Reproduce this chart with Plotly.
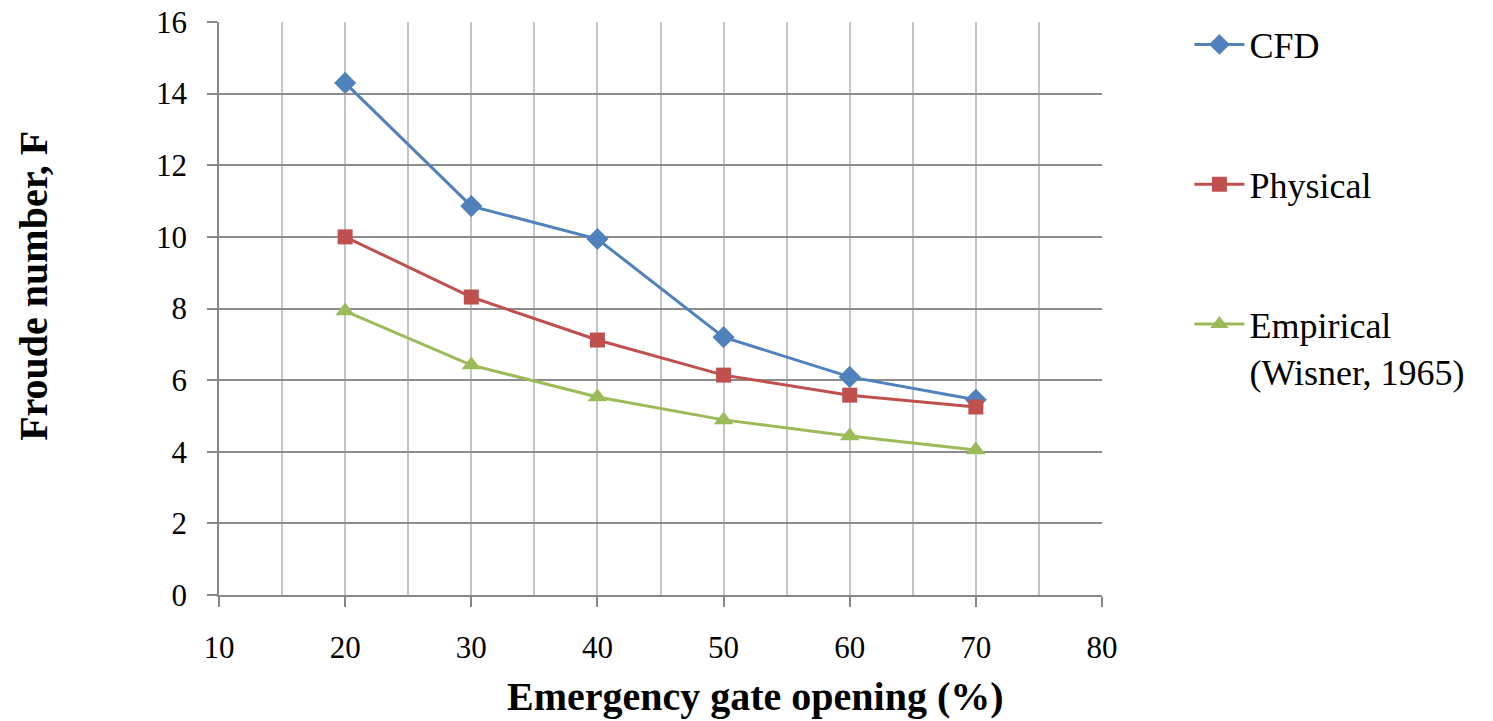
import plotly.graph_objects as go

gate_opening = [20, 30, 40, 50, 60, 70]
cfd = [14.30, 10.86, 9.94, 7.20, 6.09, 5.45]
physical = [10.00, 8.32, 7.12, 6.14, 5.58, 5.25]
empirical = [7.93, 6.42, 5.53, 4.89, 4.44, 4.05]

series_names = ["CFD", "Physical", "Empirical<br>(Wisner, 1965)"]
colors = ["#4F81BD", "#C0504D", "#9BBB59"]
symbols = ["diamond", "square", "triangle-up"]
marker_sizes = [17, 15, 17]
FONT = "Liberation Serif"

fig = go.Figure()
for i, (name, vals) in enumerate(zip(series_names, [cfd, physical, empirical])):
    fig.add_trace(go.Scatter(
        x=gate_opening, y=vals, name=name, mode="lines+markers",
        line=dict(color=colors[i], width=3),
        marker=dict(symbol=symbols[i], size=marker_sizes[i], color=colors[i]),
        legendgroup=f"g{i}",
    ))

fig.update_layout(
    width=1493, height=721,
    margin=dict(l=219, r=391, t=22, b=126, autoexpand=False),
    paper_bgcolor="white", plot_bgcolor="white",
    font=dict(family=FONT, color="black", size=28),
    showlegend=True,
    legend=dict(
        x=1.099, y=1.013, xanchor="left", yanchor="top",
        font=dict(family=FONT, size=36, color="black"),
        tracegroupgap=90, valign="top", itemwidth=50,
        bgcolor="rgba(0,0,0,0)", maxheight=700,
    ),
    xaxis=dict(
        range=[10, 80], dtick=10, tick0=10,
        showgrid=True, gridcolor="#C4C4C4", gridwidth=1.5,
        minor=dict(dtick=5, showgrid=True, gridcolor="#C4C4C4", gridwidth=1.5),
        showline=True, linecolor="#878787", linewidth=1.5,
        ticks="outside", ticklen=10, tickcolor="#878787", tickwidth=1.5,
        tickfont=dict(family=FONT, size=31), ticklabelstandoff=14,
        zeroline=False,
    ),
    yaxis=dict(
        range=[0, 16], dtick=2,
        showgrid=True, gridcolor="#8C8C8C", gridwidth=1.5,
        showline=True, linecolor="#878787", linewidth=1.5,
        ticks="outside", ticklen=10, tickcolor="#878787", tickwidth=1.5,
        tickfont=dict(family=FONT, size=31), ticklabelstandoff=14,
        zeroline=False,
    ),
    annotations=[
        dict(text="<b>Emergency gate opening (%)</b>", xref="paper", yref="paper",
             x=0.608, y=-0.178, xanchor="center", yanchor="middle", showarrow=False,
             font=dict(family=FONT, size=40, color="black")),
        dict(text="<b>Froude number, F</b>", xref="paper", yref="paper",
             x=-0.211, y=0.539, xanchor="center", yanchor="middle", showarrow=False,
             textangle=-90, font=dict(family=FONT, size=40, color="black")),
    ],
)

fig.write_html("out.html", post_script="document.body.style.margin='0';",
               config={"displayModeBar": False})
